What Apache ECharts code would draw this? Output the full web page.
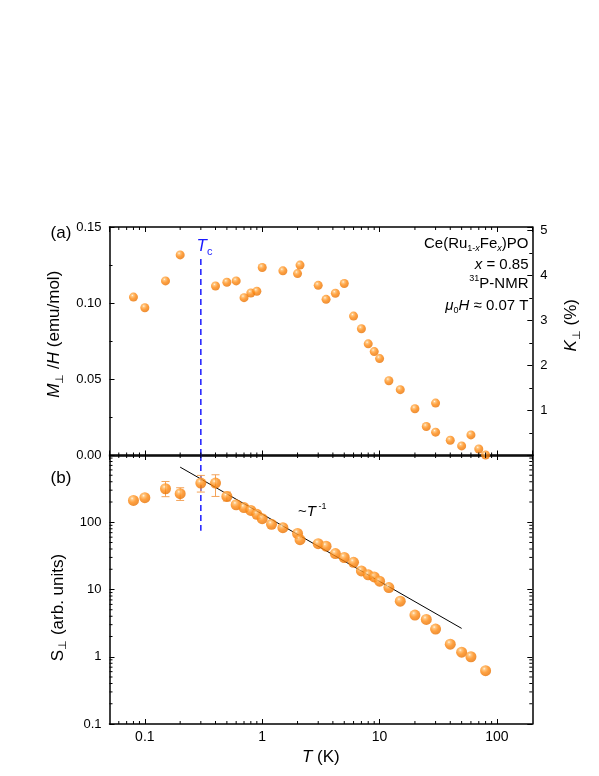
<!DOCTYPE html>
<html>
<head>
<meta charset="utf-8">
<script src="https://cdn.jsdelivr.net/npm/echarts@6/dist/echarts.min.js"></script>
<style>
  html, body { margin: 0; padding: 0; background: #fff; }
  #chart { width: 599px; height: 776px; }
</style>
</head>
<body>
<div id="chart"></div>
<script>
// panel (a): M_perp/H vs T
var tTop = [0.08, 0.1, 0.15, 0.2, 0.4, 0.5, 0.6, 0.7, 0.8, 0.9, 1, 1.5, 2, 2.1, 3, 3.5, 4.2, 5, 6, 7, 8, 9, 10, 12, 15, 20, 25, 30, 30, 40, 50, 60, 70, 80];
var mTop = [0.104, 0.097, 0.1146, 0.1317, 0.1113, 0.1137, 0.1146, 0.1036, 0.1067, 0.1078, 0.1234, 0.1212, 0.1194, 0.1250, 0.1117, 0.1025, 0.1065, 0.1129, 0.0915, 0.0832, 0.0733, 0.0682, 0.0636, 0.0491, 0.0432, 0.0307, 0.0190, 0.0344, 0.0153, 0.0100, 0.0063, 0.0135, 0.0043, 0.0003];

// panel (b): S_perp vs T
var tBot = [0.08, 0.1, 0.15, 0.2, 0.3, 0.4, 0.5, 0.6, 0.7, 0.8, 0.9, 1, 1.2, 1.5, 2, 2.1, 3, 3.5, 4.2, 5, 6, 7, 8, 9, 10, 12, 15, 20, 25, 30, 40, 50, 60, 80];
var sBot = [211, 232, 315, 266, 382, 382, 242, 182, 165, 150, 131, 113, 93, 83, 68, 55, 48, 44, 34.2, 29.9, 25.4, 18.9, 16.5, 15.4, 13.3, 10.7, 6.7, 4.16, 3.59, 2.58, 1.54, 1.17, 1.0, 0.62];

// error bars (b)
var tErr = [0.15, 0.2, 0.3, 0.4, 0.5];
var errLow = [240, 211, 281, 242, 207];
var errHigh = [404, 326, 497, 508, 281];

// ~T^-1 guide line
var fitT = [0.2, 50];
var fitS = [660, 2.64];

// T_c marker
var tc = 0.3;
var tcTop = [0.129, 0];
var tcBot = [1000, 75];

// log minor ticks
var xMinor = [0.06, 0.07, 0.08, 0.09, 0.2, 0.3, 0.4, 0.5, 0.6, 0.7, 0.8, 0.9, 2, 3, 4, 5, 6, 7, 8, 9, 20, 30, 40, 50, 60, 70, 80, 90];
var yMinor = [0.2, 0.3, 0.4, 0.5, 0.6, 0.7, 0.8, 0.9, 2, 3, 4, 5, 6, 7, 8, 9, 20, 30, 40, 50, 60, 70, 80, 90, 200, 300, 400, 500, 600, 700, 800, 900];

var FONT = 'Liberation Sans, Arial, sans-serif';
var ball = {
  type: 'radial', x: 0.38, y: 0.32, r: 0.72,
  colorStops: [
    { offset: 0, color: '#fff3df' },
    { offset: 0.18, color: '#ffb861' },
    { offset: 0.5, color: '#ff8a12' },
    { offset: 1, color: '#e66f00' }
  ]
};
var errColor = '#f3a35a';

function axisBase(extra) {
  var a = {
    axisLine: { show: true, onZero: false, lineStyle: { color: '#000', width: 1.5 } },
    axisTick: { show: true, inside: true, length: 5, lineStyle: { color: '#000', width: 1 } },
    axisLabel: { show: false, color: '#000', fontFamily: FONT },
    splitLine: { show: false }
  };
  for (var k in extra) a[k] = extra[k];
  return a;
}

function xTicks(xi, yi, yRef) {
  return {
    type: 'custom', xAxisIndex: xi, yAxisIndex: yi, silent: true, clip: false, z: 5,
    data: xMinor.map(function (v) { return [v, yRef]; }),
    renderItem: function (params, api) {
      var cs = params.coordSys;
      var p = api.coord([api.value(0), yRef]);
      var st = { stroke: '#000', lineWidth: 1 };
      return { type: 'group', children: [
        { type: 'line', shape: { x1: p[0], y1: cs.y + cs.height, x2: p[0], y2: cs.y + cs.height - 3 }, style: st },
        { type: 'line', shape: { x1: p[0], y1: cs.y, x2: p[0], y2: cs.y + 3 }, style: st }
      ] };
    }
  };
}

function yTicks(xi, yi, xRef) {
  return {
    type: 'custom', xAxisIndex: xi, yAxisIndex: yi, silent: true, clip: false, z: 5,
    data: yMinor.map(function (v) { return [xRef, v]; }),
    renderItem: function (params, api) {
      var cs = params.coordSys;
      var p = api.coord([xRef, api.value(1)]);
      var st = { stroke: '#000', lineWidth: 1 };
      return { type: 'group', children: [
        { type: 'line', shape: { x1: cs.x, y1: p[1], x2: cs.x + 3, y2: p[1] }, style: st },
        { type: 'line', shape: { x1: cs.x + cs.width, y1: p[1], x2: cs.x + cs.width - 3, y2: p[1] }, style: st }
      ] };
    }
  };
}

var richName = {
  n: { fontSize: 17, fontFamily: FONT, color: '#000', lineHeight: 22 },
  i: { fontSize: 17, fontFamily: FONT, fontStyle: 'italic', color: '#000', lineHeight: 22 },
  sub: { fontSize: 11, fontFamily: FONT, color: '#000', lineHeight: 11, verticalAlign: 'bottom' }
};
var richText = {
  n: { fontSize: 15, fontFamily: FONT, color: '#000', lineHeight: 19 },
  i: { fontSize: 15, fontFamily: FONT, fontStyle: 'italic', color: '#000', lineHeight: 19 },
  sub: { fontSize: 9, fontFamily: FONT, color: '#000', lineHeight: 9, verticalAlign: 'bottom' },
  subi: { fontSize: 9, fontFamily: FONT, fontStyle: 'italic', color: '#000', lineHeight: 9, verticalAlign: 'bottom' },
  sup: { fontSize: 9, fontFamily: FONT, color: '#000', lineHeight: 9, verticalAlign: 'top' }
};

var chart = echarts.init(document.getElementById('chart'), null, { renderer: 'canvas' });

var option = {
  animation: false,
  backgroundColor: '#fff',
  grid: [
    { left: 109.5, right: 66.7, top: 227, height: 228.5 },
    { left: 109.5, right: 66.7, top: 455, height: 269 }
  ],
  xAxis: [
    axisBase({ type: 'log', gridIndex: 0, position: 'bottom', min: 0.05, max: 200, logBase: 10 }),
    axisBase({ type: 'log', gridIndex: 0, position: 'top', min: 0.05, max: 200, logBase: 10 }),
    axisBase({
      type: 'log', gridIndex: 1, position: 'bottom', min: 0.05, max: 200, logBase: 10,
      axisLabel: { show: true, color: '#000', fontFamily: FONT, fontSize: 14, margin: 6, showMinLabel: false, showMaxLabel: false },
      name: '{i|T}{n| (K)}', nameLocation: 'middle', nameGap: 22,
      nameTextStyle: { rich: richName }
    }),
    axisBase({ type: 'log', gridIndex: 1, position: 'top', min: 0.05, max: 200, logBase: 10 })
  ],
  yAxis: [
    axisBase({
      type: 'value', gridIndex: 0, position: 'left', min: 0, max: 0.15, interval: 0.05,
      minorTick: { show: true, splitNumber: 2, length: 3, lineStyle: { color: '#000' } },
      axisLabel: { show: true, color: '#000', fontFamily: FONT, fontSize: 13, margin: 8,
        formatter: function (v) { return v.toFixed(2); } },
      name: '{i|M}{sub|⊥}{n| /}{i|H}{n| (emu/mol)}', nameLocation: 'middle', nameGap: 40,
      nameTextStyle: { rich: richName, padding: [0, 0, 0, 14] }
    }),
    axisBase({
      type: 'value', gridIndex: 0, position: 'right', min: 0, max: 5.08, interval: 1,
      minorTick: { show: true, splitNumber: 2, length: 3, lineStyle: { color: '#000' } },
      axisLabel: { show: true, color: '#000', fontFamily: FONT, fontSize: 13, margin: 8, showMinLabel: false, showMaxLabel: false },
      name: '{i|K}{sub|⊥}{n| (%)}', nameLocation: 'middle', nameGap: 28,
      nameTextStyle: { rich: richName, padding: [0, 0, 0, 32] }
    }),
    axisBase({
      type: 'log', gridIndex: 1, position: 'left', min: 0.1, max: 1000, logBase: 10,
      axisLabel: { show: true, color: '#000', fontFamily: FONT, fontSize: 13, margin: 8, showMaxLabel: false },
      name: '{n|S}{sub|⊥}{n| (arb. units)}', nameLocation: 'middle', nameGap: 40,
      nameTextStyle: { rich: richName, padding: [0, 36, 0, 0] }
    }),
    axisBase({ type: 'log', gridIndex: 1, position: 'right', min: 0.1, max: 1000, logBase: 10 })
  ],
  series: [
    xTicks(0, 0, 0.1),
    xTicks(2, 2, 1),
    yTicks(2, 2, 1),
    {
      type: 'line', xAxisIndex: 0, yAxisIndex: 0, symbol: 'none', silent: true, z: 2,
      data: tcTop.map(function (v) { return [tc, v]; }),
      lineStyle: { color: '#1a1aff', width: 1.5, type: [6, 4] }
    },
    {
      type: 'line', xAxisIndex: 2, yAxisIndex: 2, symbol: 'none', silent: true, z: 2,
      data: tcBot.map(function (v) { return [tc, v]; }),
      lineStyle: { color: '#1a1aff', width: 1.5, type: [6, 4] }
    },
    {
      type: 'line', xAxisIndex: 2, yAxisIndex: 2, symbol: 'none', silent: true, z: 2,
      data: fitT.map(function (t, i) { return [t, fitS[i]]; }),
      lineStyle: { color: '#000', width: 1 }
    },
    {
      type: 'custom', xAxisIndex: 2, yAxisIndex: 2, silent: true, z: 3,
      data: tErr.map(function (t, i) { return [t, errLow[i], errHigh[i]]; }),
      encode: { x: 0, y: [1, 2] },
      renderItem: function (params, api) {
        var lo = api.coord([api.value(0), api.value(1)]);
        var hi = api.coord([api.value(0), api.value(2)]);
        var w = 4;
        var st = { stroke: errColor, lineWidth: 1 };
        return { type: 'group', children: [
          { type: 'line', shape: { x1: lo[0], y1: lo[1], x2: hi[0], y2: hi[1] }, style: st },
          { type: 'line', shape: { x1: lo[0] - w, y1: lo[1], x2: lo[0] + w, y2: lo[1] }, style: st },
          { type: 'line', shape: { x1: hi[0] - w, y1: hi[1], x2: hi[0] + w, y2: hi[1] }, style: st }
        ] };
      }
    },
    {
      type: 'scatter', xAxisIndex: 0, yAxisIndex: 0, symbolSize: 9, z: 4,
      data: tTop.map(function (t, i) { return [t, mTop[i]]; }),
      itemStyle: { color: ball }
    },
    {
      type: 'scatter', xAxisIndex: 2, yAxisIndex: 2, symbolSize: 11, z: 4,
      data: tBot.map(function (t, i) { return [t, sBot[i]]; }),
      itemStyle: { color: ball }
    }
  ],
  graphic: [
    { type: 'text', x: 61, y: 233, style: { text: '(a)', font: '17px ' + FONT, fill: '#000', align: 'center', verticalAlign: 'middle' } },
    { type: 'text', x: 61, y: 478, style: { text: '(b)', font: '17px ' + FONT, fill: '#000', align: 'center', verticalAlign: 'middle' } },
    { type: 'text', x: 196.5, y: 246, style: {
      text: '{t|T}{c|c}', align: 'left', verticalAlign: 'middle',
      rich: {
        t: { fontSize: 17, fontFamily: FONT, fontStyle: 'italic', fill: '#1a1aff', lineHeight: 22 },
        c: { fontSize: 11, fontFamily: FONT, fill: '#1a1aff', lineHeight: 11, verticalAlign: 'bottom' }
      } } },
    { type: 'text', x: 528.5, y: 243.5, style: { text: '{n|Ce(Ru}{sub|1-}{subi|x}{n|Fe}{subi|x}{n|)PO}', align: 'right', verticalAlign: 'middle', rich: richText } },
    { type: 'text', x: 528.5, y: 265, style: { text: '{i|x}{n| = 0.85}', align: 'right', verticalAlign: 'middle', rich: richText } },
    { type: 'text', x: 528.5, y: 284, style: { text: '{sup|31}{n|P-NMR}', align: 'right', verticalAlign: 'middle', rich: richText } },
    { type: 'text', x: 528.5, y: 305.5, style: { text: '{i|μ}{sub|0}{i|H}{n| ≈ 0.07 T}', align: 'right', verticalAlign: 'middle', rich: richText } },
    { type: 'text', x: 298, y: 512, style: { text: '{n|~}{i|T}{sup| -1}', align: 'left', verticalAlign: 'middle', rich: richText } }
  ]
};

chart.setOption(option);
</script>
</body>
</html>
